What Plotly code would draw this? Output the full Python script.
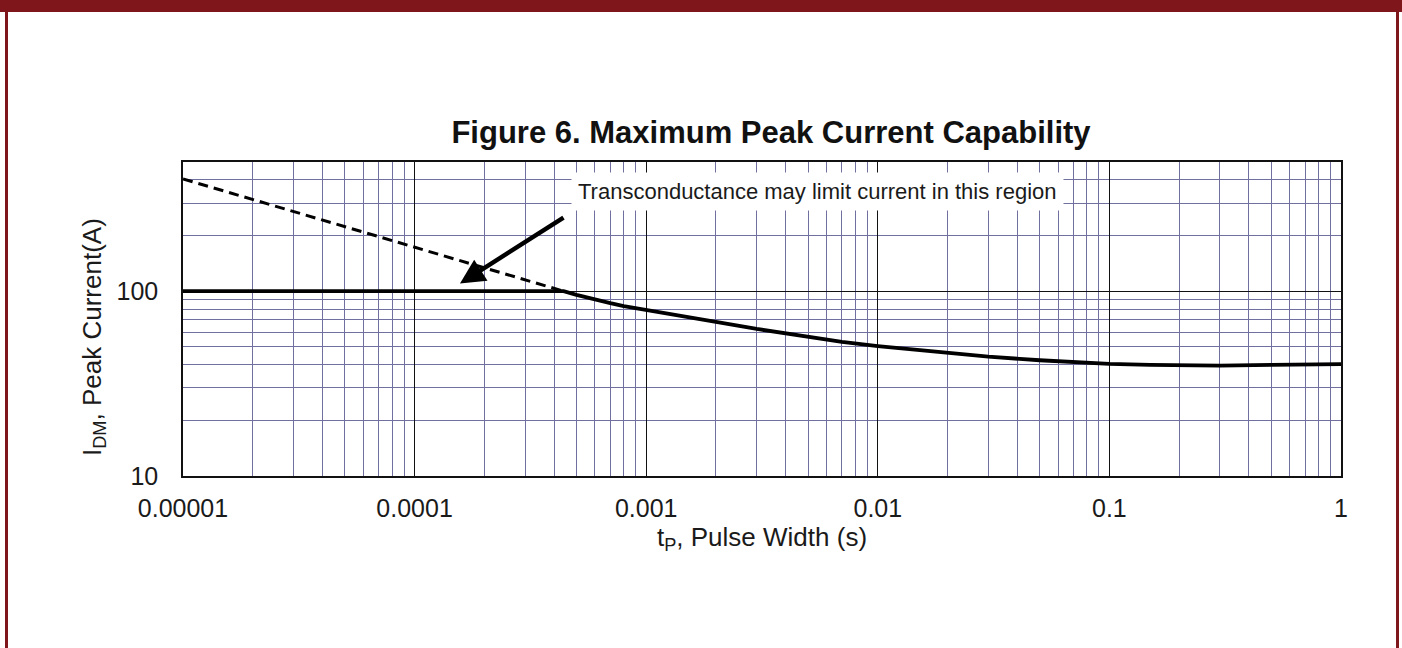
import math
import plotly.graph_objects as go

# ---- data ----
t_solid = [1e-5, 4.4e-4, 5e-4, 6e-4, 7e-4, 8e-4, 1e-3, 1.5e-3, 2e-3, 3e-3, 5e-3, 7e-3, 1e-2,
           1.5e-2, 2e-2, 3e-2, 5e-2, 7e-2, 0.1, 0.15, 0.2, 0.3, 0.5, 1.0]
i_solid = [100, 100, 95.6, 90.1, 86.2, 83.1, 79, 72.5, 68.3, 62.5, 56.5, 53.2, 50.5,
           48, 46.1, 44.2, 42.3, 41.2, 40.4, 39.9, 39.7, 39.6, 39.9, 40.3]
t_dash = [1e-5, 4.4e-4]
i_dash = [405, 100]

x_major = [1e-5, 1e-4, 1e-3, 1e-2, 1e-1, 1.0]
x_labels = ["0.00001", "0.0001", "0.001", "0.01", "0.1", "1"]
x_minor = [m * d for d in [1e-5, 1e-4, 1e-3, 1e-2, 1e-1] for m in range(2, 10)]
y_major = [10, 100]
y_labels = ["10", "100"]
y_minor = [m * 10 for m in range(2, 10)] + [m * 100 for m in range(2, 6)]

title_text = "Figure 6. Maximum Peak Current Capability"
note_text = "Transconductance may limit current in this region"
note_pos = (10 ** -2.26, 345)
arrow_tip = (1.57e-4, 110)
arrow_tail = (4.46e-4, 253)

FONT = "Arial, 'Liberation Sans', sans-serif"
MINOR = "#6F6FA0"
FRAME = "#7F161B"

fig = go.Figure()
fig.add_trace(go.Scatter(x=t_dash, y=i_dash, mode="lines",
                         line=dict(color="black", width=3, dash="10px,6px"),
                         showlegend=False, hoverinfo="skip"))
fig.add_trace(go.Scatter(x=t_solid, y=i_solid, mode="lines",
                         line=dict(color="black", width=3.8),
                         showlegend=False, hoverinfo="skip"))

L, R, T, B = 183, 61, 162, 172
W, H = 1402, 648
pw, ph = W - L - R, H - T - B
def px(x):
    return (x - L) / pw
def py(y):
    return (H - B - y) / ph

shapes = [
    dict(type="rect", xref="paper", yref="paper", x0=px(-5), x1=px(W + 5), y0=py(12), y1=py(-5),
         fillcolor=FRAME, line=dict(width=0), layer="above"),
    dict(type="rect", xref="paper", yref="paper", x0=px(5), x1=px(8), y0=py(H + 5), y1=py(0),
         fillcolor=FRAME, line=dict(width=0), layer="above"),
    dict(type="rect", xref="paper", yref="paper", x0=px(1396), x1=px(1399), y0=py(H + 5), y1=py(0),
         fillcolor=FRAME, line=dict(width=0), layer="above"),
]

annotations = [
    dict(x=math.log10(note_pos[0]), y=math.log10(note_pos[1]), xref="x", yref="y",
         text=note_text, showarrow=False, bgcolor="white", borderpad=6,
         font=dict(family=FONT, size=22, color="#1a1a1a"), xanchor="center", yanchor="middle"),
    dict(x=math.log10(arrow_tip[0]), y=math.log10(arrow_tip[1]), xref="x", yref="y",
         ax=math.log10(arrow_tail[0]), ay=math.log10(arrow_tail[1]), axref="x", ayref="y",
         text="", showarrow=True, arrowhead=2, arrowsize=1.1, arrowwidth=4.5,
         arrowcolor="black", standoff=0, startstandoff=0),
    dict(x=px(93), y=py(337), xref="paper", yref="paper", text="I<sub>DM</sub>, Peak Current(A)",
         textangle=-90, showarrow=False, font=dict(family=FONT, size=26, color="#1a1a1a"),
         xanchor="center", yanchor="middle"),
]

fig.update_layout(
    width=W, height=H,
    margin=dict(l=L, r=R, t=T, b=B),
    paper_bgcolor="white", plot_bgcolor="white",
    title=dict(text=title_text, x=px(771), xref="paper", y=1 - 132 / H, yref="container",
               xanchor="center", yanchor="middle",
               font=dict(family=FONT, size=31, color="#111", weight="bold")),
    shapes=shapes, annotations=annotations,
    font=dict(family=FONT, color="#1a1a1a"),
)

fig.update_xaxes(
    type="log", range=[-5, 0],
    tickmode="array", tickvals=x_major, ticktext=x_labels,
    tickfont=dict(size=25), ticks="outside", ticklen=9, tickcolor="rgba(0,0,0,0)",
    showgrid=True, gridcolor="#111", gridwidth=1,
    minor=dict(tickmode="array", tickvals=x_minor, showgrid=True, gridcolor=MINOR, gridwidth=1, ticks=""),
    showline=True, linecolor="#111", linewidth=1.5, mirror=True, zeroline=False,
    title=dict(text="t<sub>P</sub>, Pulse Width (s)", font=dict(size=26), standoff=2),
)
fig.update_yaxes(
    type="log", range=[1, math.log10(500)],
    tickmode="array", tickvals=y_major, ticktext=y_labels,
    tickfont=dict(size=25), ticks="outside", ticklen=18, tickcolor="rgba(0,0,0,0)",
    showgrid=True, gridcolor="#111", gridwidth=1,
    minor=dict(tickmode="array", tickvals=y_minor, showgrid=True, gridcolor=MINOR, gridwidth=1, ticks=""),
    showline=True, linecolor="#111", linewidth=1.5, mirror=True, zeroline=False,
)

fig.write_html("out.html")
